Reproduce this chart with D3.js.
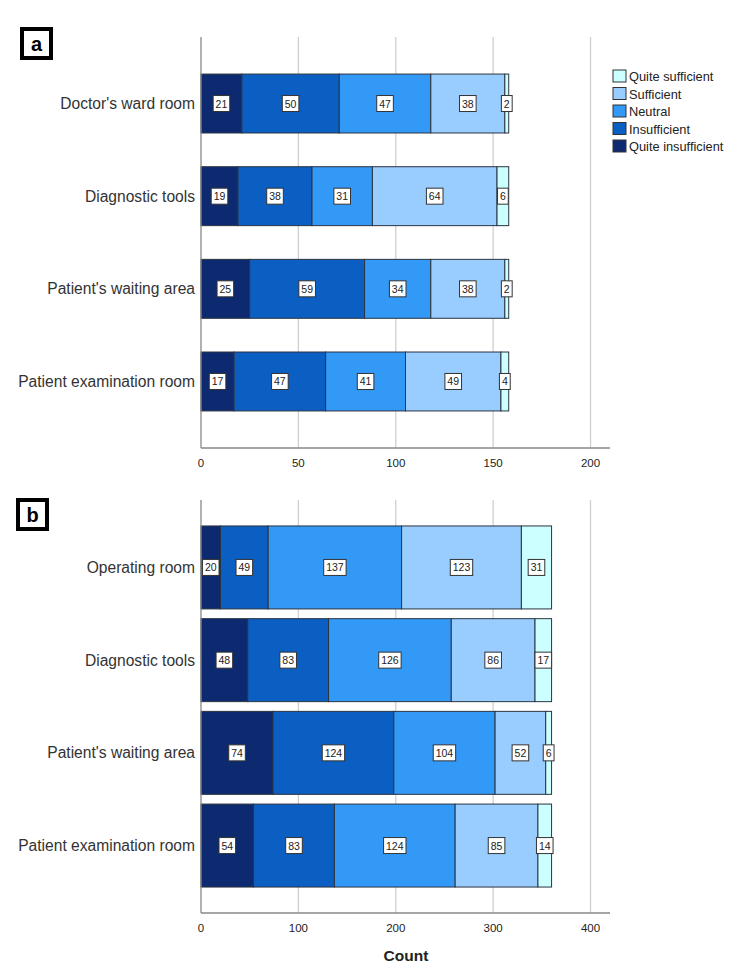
<!DOCTYPE html>
<html><head><meta charset="utf-8">
<script src="https://cdn.jsdelivr.net/npm/d3@7"></script>
<style>body{margin:0;background:#fff}svg{display:block}text{font-family:"Liberation Sans",Arial,sans-serif}</style>
</head><body>
<svg id="c" width="750" height="968"></svg>
<script>
const seriesNames = ["Quite insufficient","Insufficient","Neutral","Sufficient","Quite sufficient"];
const colors = ["#0d2a70","#0b5fc2","#3399f7","#99ccff","#ccffff"];
const catsA = ["Doctor's ward room","Diagnostic tools","Patient's waiting area","Patient examination room"];
const quiteInsuffA = [21,19,25,17];
const insuffA = [50,38,59,47];
const neutralA = [47,31,34,41];
const suffA = [38,64,38,49];
const quiteSuffA = [2,6,2,4];
const ticksA = [0,50,100,150,200];
const catsB = ["Operating room","Diagnostic tools","Patient's waiting area","Patient examination room"];
const quiteInsuffB = [20,48,74,54];
const insuffB = [49,83,124,83];
const neutralB = [137,126,104,124];
const suffB = [123,86,52,85];
const quiteSuffB = [31,17,6,14];
const ticksB = [0,100,200,300,400];

const svg = d3.select("#c");

function panel(cfg){
  const {cats, series, ticks, xmax, x0, x1, y0, y1, pi, po, label, lbox} = cfg;
  const g = svg.append("g");
  const x = d3.scaleLinear().domain([0,xmax]).range([x0,x1]);
  const y = d3.scaleBand().domain(cats).range([y0,y1]).paddingInner(pi).paddingOuter(po);
  g.selectAll("line.grid").data(ticks.filter(t=>t>0)).join("line")
    .attr("x1",d=>x(d)).attr("x2",d=>x(d)).attr("y1",y0).attr("y2",y1)
    .attr("stroke","#cfcfcf").attr("stroke-width",1.3);
  const rows = cats.map((c,i)=>{const o={cat:c}; seriesNames.forEach((s,j)=>o[s]=series[j][i]); return o;});
  const stack = d3.stack().keys(seriesNames)(rows);
  stack.forEach((layer,j)=>{
    g.selectAll(null).data(layer).join("rect")
      .attr("x",d=>x(d[0])).attr("width",d=>x(d[1])-x(d[0]))
      .attr("y",d=>y(d.data.cat)).attr("height",y.bandwidth())
      .attr("fill",colors[j]).attr("stroke","#2b3440").attr("stroke-width",1);
  });
  stack.forEach((layer,j)=>{
    layer.forEach(d=>{
      const v = d[1]-d[0];
      const cx = (x(d[0])+x(d[1]))/2, cy = y(d.data.cat)+y.bandwidth()/2;
      const w = String(v).length*5.8+5;
      g.append("rect").attr("x",cx-w/2).attr("y",cy-8).attr("width",w).attr("height",16)
        .attr("fill","#fff").attr("stroke","#333").attr("stroke-width",1);
      g.append("text").attr("x",cx).attr("y",cy+4).attr("text-anchor","middle")
        .attr("font-size",10.5).attr("fill","#222").text(v);
    });
  });
  g.append("line").attr("x1",x0).attr("x2",x0).attr("y1",y0).attr("y2",y1).attr("stroke","#888").attr("stroke-width",1.3);
  g.append("line").attr("x1",x0).attr("x2",x1).attr("y1",y1).attr("y2",y1).attr("stroke","#888").attr("stroke-width",1.3);
  g.selectAll("text.tick").data(ticks).join("text")
    .attr("x",d=>x(d)).attr("y",y1+19).attr("text-anchor","middle").attr("font-size",11.5).attr("fill","#222").text(d=>d);
  g.selectAll("text.cat").data(cats).join("text")
    .attr("x",x0-6).attr("y",d=>y(d)+y.bandwidth()/2+5.5).attr("text-anchor","end")
    .attr("font-size",15.6).attr("fill","#333").text(d=>d);
  g.append("rect").attr("x",lbox[0]).attr("y",lbox[1]).attr("width",29).attr("height",29)
    .attr("fill","#fff").attr("stroke","#000").attr("stroke-width",4);
  g.append("text").attr("x",lbox[0]+14.5).attr("y",lbox[1]+21.5).attr("text-anchor","middle")
    .attr("font-size",20).attr("font-weight","bold").text(label);
}

panel({cats:catsA, series:[quiteInsuffA,insuffA,neutralA,suffA,quiteSuffA], ticks:ticksA, xmax:210,
  x0:201, x1:610, y0:37, y1:448, pi:0.364, po:0.4, label:"a", lbox:[22,29]});
panel({cats:catsB, series:[quiteInsuffB,insuffB,neutralB,suffB,quiteSuffB], ticks:ticksB, xmax:420,
  x0:201, x1:610, y0:500, y1:913, pi:0.105, po:0.28, label:"b", lbox:[18,500]});

svg.append("text").attr("x",406).attr("y",961).attr("text-anchor","middle").attr("font-size",15.5)
  .attr("font-weight","bold").attr("fill","#222").text("Count");

const legOrder = [4,3,2,1,0];
const lg = svg.append("g").attr("transform","translate(613,70)");
legOrder.forEach((k,i)=>{
  lg.append("rect").attr("x",0).attr("y",i*17.5).attr("width",13).attr("height",12)
    .attr("fill",colors[k]).attr("stroke","#333").attr("stroke-width",1);
  lg.append("text").attr("x",16).attr("y",i*17.5+11).attr("font-size",12.8).attr("fill","#222").text(seriesNames[k]);
});
</script>
</body></html>
